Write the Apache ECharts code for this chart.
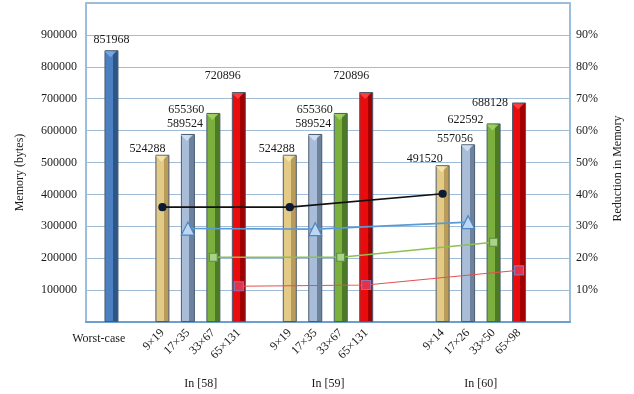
<!DOCTYPE html>
<html>
<head>
<meta charset="utf-8">
<script src="https://cdn.jsdelivr.net/npm/echarts@6/dist/echarts.min.js"></script>
<style>
  html, body { margin: 0; padding: 0; background: #fff; }
  #chart { width: 634px; height: 394px; }
</style>
</head>
<body>
<div id="chart"></div>
<script>
// Memory use of the worst case and of each filter size in three works,
// with the reduction relative to the worst case on the right axis.
const worstCaseLabel = 'Worst-case';
const worstCase = 851968;
const groupNames = ['In [58]', 'In [59]', 'In [60]'];
const sizes58 = ['9×19', '17×35', '33×67', '65×131'];
const sizes59 = ['9×19', '17×35', '33×67', '65×131'];
const sizes60 = ['9×14', '17×26', '33×50', '65×98'];
const memory58 = [524288, 589524, 655360, 720896];
const memory59 = [524288, 589524, 655360, 720896];
const memory60 = [491520, 557056, 622592, 688128];
// Reduction in memory (%) for the 1st..4th size of each work
const reductionFirst = [36, 36, 40.2];
const reductionSecond = [29.3, 29.1, 31.3];
const reductionThird = [20.3, 20.3, 25];
const reductionFourth = [11.2, 11.6, 16.2];
const leftTicks = [100000, 200000, 300000, 400000, 500000, 600000, 700000, 800000, 900000];
const rightTicks = [10, 20, 30, 40, 50, 60, 70, 80, 90];

// ---- slot layout on the category axis (spacer slots keep the groups apart)
const SLOT_COUNT = 20;
const WORST_SLOT = 1;
const GROUP_START = [3, 8, 14];
const GROUP_LABEL_BAND = [4, 9, 15];   // band-axis slot centred under each group

const groupSizes = [sizes58, sizes59, sizes60];
const groupMemory = [memory58, memory59, memory60];
const reductions = [reductionFirst, reductionSecond, reductionThird, reductionFourth];

const SERIF = '"Liberation Serif", "DejaVu Serif", serif';

// bar face colours: [light face, shaded side, cap]
const worstColors = ['#4d80c0', '#2b5686', '#7fb0e6'];
const sizeColors = [
  ['#e3cb87', '#b99b5a', '#f7eab0'],
  ['#a9bdd8', '#6c829d', '#d6e6f6'],
  ['#7bb03e', '#4d7a24', '#a6d86a'],
  ['#ea0c0c', '#a20000', '#ff4a4a']
];
// label nudges [dx, dy] so neighbouring value labels do not collide
const labelNudge = [
  [0, 0],
  [-15, 4], [-3, 0], [-27, 7], [-16, -6],
  [-13, 4], [-2, 0], [-26, 7], [-15, -6],
  [-18, 4], [-13, 5], [-28, 6], [-29, 10]
];

function prism(c) {
  return new echarts.graphic.LinearGradient(0, 0, 1, 0, [
    { offset: 0, color: c[0] },
    { offset: 0.6, color: c[0] },
    { offset: 0.6, color: c[1] },
    { offset: 1, color: c[1] }
  ]);
}

const tickLabels = new Array(SLOT_COUNT).fill('');
const barData = new Array(SLOT_COUNT).fill(null);
const capData = new Array(SLOT_COUNT).fill(null);
const lineData = reductions.map(() => new Array(SLOT_COUNT).fill(null));

function placeBar(slot, value, colors, nudge) {
  barData[slot] = {
    value: value,
    itemStyle: { color: prism(colors) },
    label: { offset: nudge }
  };
  capData[slot] = { value: value, itemStyle: { color: colors[2] } };
}

placeBar(WORST_SLOT, worstCase, worstColors, labelNudge[0]);
let k = 1;
groupSizes.forEach((sizes, g) => {
  sizes.forEach((s, i) => {
    const slot = GROUP_START[g] + i;
    tickLabels[slot] = s;
    placeBar(slot, groupMemory[g][i], sizeColors[i], labelNudge[k++]);
    lineData[i][slot] = reductions[i][g];
  });
});

const bandLabelsTop = new Array(SLOT_COUNT - 1).fill('');
bandLabelsTop[0] = worstCaseLabel;
const bandLabelsGroups = new Array(SLOT_COUNT - 1).fill('');
GROUP_LABEL_BAND.forEach((b, g) => { bandLabelsGroups[b] = groupNames[g]; });

const lineStyles = [
  { color: '#111111', symbol: 'circle', size: 7, fill: '#0d1a33', border: '#0d1a33', width: 1.6 },
  { color: '#5b9bd5', symbol: 'triangle', size: 13, fill: '#bfd6f0', border: '#4a86c5', width: 1.6 },
  { color: '#8fbf4f', symbol: 'rect', size: 8, fill: '#a9d38a', border: '#5d8f3c', width: 1.3 },
  { color: '#e05252', symbol: 'rect', size: 9, fill: '#e8304a', border: '#8e74b0', width: 1.1 }
];

const chart = echarts.init(document.getElementById('chart'), null, { renderer: 'canvas' });
chart.setOption({
  backgroundColor: '#ffffff',
  animation: false,
  textStyle: { fontFamily: SERIF },
  grid: {
    left: 86, right: 64, top: 3, bottom: 72,
    show: true, borderColor: '#7ba7cf', borderWidth: 1.5, backgroundColor: 'transparent'
  },
  xAxis: [
    {
      type: 'category', data: tickLabels, boundaryGap: false, position: 'bottom',
      axisLine: { show: true, lineStyle: { color: '#6d9fcc', width: 2 } },
      axisTick: { show: false },
      splitLine: { show: false },
      axisLabel: { interval: 0, rotate: 45, margin: 9, fontFamily: SERIF, fontSize: 12, color: '#1a1a1a' }
    },
    {
      type: 'category', data: bandLabelsTop, boundaryGap: true, position: 'bottom',
      axisLine: { show: false }, axisTick: { show: false },
      axisLabel: { interval: 0, margin: 11, fontFamily: SERIF, fontSize: 12, color: '#1a1a1a' }
    },
    {
      type: 'category', data: bandLabelsGroups, boundaryGap: true, position: 'bottom',
      axisLine: { show: false }, axisTick: { show: false },
      axisLabel: { interval: 0, margin: 56, fontFamily: SERIF, fontSize: 12, color: '#1a1a1a' }
    }
  ],
  yAxis: [
    {
      type: 'value', min: 0, max: 1000000, interval: 100000, position: 'left',
      name: 'Memory (bytes)', nameLocation: 'middle', nameRotate: 90, nameGap: 60,
      nameTextStyle: { fontFamily: SERIF, fontSize: 12, color: '#1a1a1a', padding: [0, 20, 0, 0] },
      axisLine: { show: false }, axisTick: { show: false },
      splitLine: { show: true, lineStyle: { color: '#9fbdd8', width: 1.2 } },
      axisLabel: {
        margin: 9, fontFamily: SERIF, fontSize: 12, color: '#1a1a1a',
        formatter: v => leftTicks.includes(v) ? String(v) : ''
      }
    },
    {
      type: 'value', min: 0, max: 100, interval: 10, position: 'right',
      name: 'Reduction in Memory', nameLocation: 'middle', nameRotate: 90, nameGap: 42,
      nameTextStyle: { fontFamily: SERIF, fontSize: 12, color: '#1a1a1a', padding: [0, 12, 0, 0] },
      axisLine: { show: false }, axisTick: { show: false },
      splitLine: { show: false },
      axisLabel: {
        margin: 6, fontFamily: SERIF, fontSize: 12, color: '#1a1a1a',
        formatter: v => rightTicks.includes(v) ? v + '%' : ''
      }
    }
  ],
  series: [
    {
      name: 'Memory', type: 'bar', xAxisIndex: 0, yAxisIndex: 0,
      data: barData, barWidth: 14,
      itemStyle: { borderColor: '#4a5b70', borderWidth: 1 },
      label: {
        show: true, position: 'top', distance: 4,
        fontFamily: SERIF, fontSize: 12, color: '#1a1a1a',
        formatter: p => String(p.value)
      },
      z: 2
    },
    {
      name: 'cap', type: 'scatter', xAxisIndex: 0, yAxisIndex: 0,
      data: capData, symbol: 'triangle', symbolRotate: 180,
      symbolSize: [12, 6], symbolOffset: [-1, 4], silent: true, z: 3
    },
    ...lineData.map((d, i) => ({
      name: 'reduction' + i, type: 'line', xAxisIndex: 0, yAxisIndex: 1,
      data: d, connectNulls: true,
      symbol: lineStyles[i].symbol, symbolSize: lineStyles[i].size, showAllSymbol: true,
      lineStyle: { color: lineStyles[i].color, width: lineStyles[i].width },
      itemStyle: { color: lineStyles[i].fill, borderColor: lineStyles[i].border, borderWidth: 1.2 },
      z: 5
    }))
  ]
});
</script>
</body>
</html>
